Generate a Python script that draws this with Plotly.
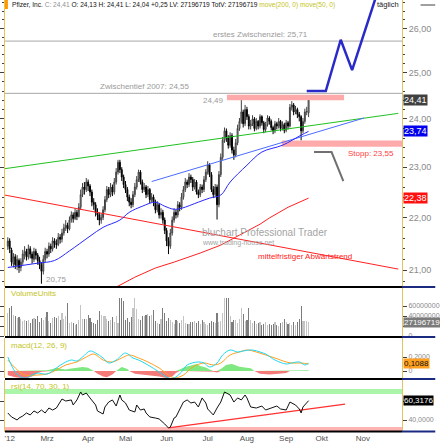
import numpy as np
import plotly.graph_objects as go

# ---------------- data ----------------
month_labels = ["'12", "Mrz", "Apr", "Mai", "Jun", "Jul", "Aug", "Sep", "Okt", "Nov"]
month_pos = [1, 21, 43, 63, 85, 107, 128, 149, 168, 190]   # trading-day index

opens = [21.45, 21.55, 21.38, 21.12, 21.25, 21.08, 21.18, 21.05, 21.15, 21.28,
         21.35, 21.25, 21.40, 21.30, 21.20, 21.35, 21.28, 21.18, 21.10, 20.98,
         21.20, 21.35, 21.30, 21.45, 21.40, 21.55, 21.50, 21.48, 21.62, 21.58,
         21.70, 21.80, 21.85, 21.78, 21.95, 22.05, 21.98, 22.10, 22.02, 22.20,
         22.45, 22.60, 22.55, 22.70, 22.62, 22.50, 22.30, 22.25, 22.10, 22.05,
         21.95, 22.00, 22.15, 22.35, 22.55, 22.45, 22.60, 22.50, 22.70, 22.90,
         23.10, 22.95, 22.80, 22.65, 22.55, 22.40, 22.30, 22.25, 22.45, 22.60,
         22.75, 22.90, 22.70, 22.55, 22.60, 22.45, 22.55, 22.35, 22.40, 22.30,
         22.15, 22.25, 22.05, 22.10, 21.95, 21.75, 21.55, 21.45, 21.70, 21.95,
         22.10, 22.05, 22.25, 22.20, 22.40, 22.55, 22.70, 22.65, 22.80, 22.75,
         22.60, 22.70, 22.50, 22.45, 22.60, 22.55, 22.75, 22.90, 23.05, 22.85,
         22.55, 22.45, 22.60, 22.25, 22.85, 23.20, 23.55, 23.75, 23.60, 23.45,
         23.65, 23.35, 23.25, 23.50, 23.80, 23.95, 24.15, 23.90, 24.20, 24.05,
         23.85, 23.90, 24.00, 23.80, 23.95, 23.85, 24.05, 23.92, 23.78, 23.88,
         24.02, 23.95, 23.82, 23.75, 23.90, 23.85, 23.95, 23.80, 23.88, 23.76,
         23.92, 23.85, 24.25, 24.30, 24.15, 24.20, 24.10, 24.05, 23.75, 23.95,
         24.15, 24.13]
highs = [21.62, 21.60, 21.42, 21.32, 21.30, 21.28, 21.22, 21.22, 21.38, 21.45,
         21.40, 21.48, 21.45, 21.35, 21.42, 21.40, 21.32, 21.25, 21.15, 21.28,
         21.42, 21.40, 21.52, 21.50, 21.62, 21.60, 21.58, 21.70, 21.68, 21.78,
         21.88, 21.95, 21.90, 22.02, 22.12, 22.10, 22.18, 22.15, 22.28, 22.55,
         22.68, 22.70, 22.78, 22.75, 22.66, 22.55, 22.38, 22.30, 22.18, 22.10,
         22.08, 22.22, 22.42, 22.62, 22.60, 22.68, 22.65, 22.78, 22.98, 23.15,
         23.15, 23.00, 22.85, 22.72, 22.60, 22.45, 22.38, 22.52, 22.68, 22.82,
         22.95, 22.94, 22.75, 22.68, 22.64, 22.62, 22.58, 22.48, 22.45, 22.35,
         22.32, 22.28, 22.18, 22.15, 22.00, 21.80, 21.62, 21.78, 22.02, 22.18,
         22.15, 22.32, 22.30, 22.48, 22.62, 22.78, 22.75, 22.88, 22.85, 22.80,
         22.76, 22.74, 22.55, 22.66, 22.65, 22.82, 22.96, 23.12, 23.08, 22.90,
         22.62, 22.66, 22.65, 22.92, 23.28, 23.62, 23.82, 23.80, 23.66, 23.72,
         23.70, 23.42, 23.58, 23.88, 24.02, 24.49, 24.20, 24.30, 24.26, 24.10,
         23.98, 24.08, 24.04, 24.02, 23.98, 24.10, 24.08, 23.96, 23.94, 24.08,
         24.06, 23.99, 23.86, 23.96, 23.94, 24.02, 23.98, 23.95, 23.92, 23.98,
         23.96, 24.32, 24.38, 24.34, 24.28, 24.24, 24.15, 24.08, 24.02, 24.22,
         24.26, 24.41]
lows = [21.38, 21.32, 21.08, 21.05, 21.02, 21.00, 20.95, 20.98, 21.10, 21.20,
        21.18, 21.20, 21.22, 21.12, 21.15, 21.20, 21.10, 21.02, 20.75, 20.92,
        21.15, 21.22, 21.25, 21.32, 21.35, 21.42, 21.40, 21.45, 21.50, 21.52,
        21.65, 21.74, 21.70, 21.75, 21.90, 21.90, 21.95, 21.95, 22.00, 22.15,
        22.40, 22.45, 22.50, 22.52, 22.42, 22.22, 22.15, 22.02, 21.95, 21.85,
        21.88, 21.95, 22.10, 22.30, 22.38, 22.40, 22.42, 22.45, 22.65, 22.85,
        22.88, 22.72, 22.58, 22.48, 22.32, 22.22, 22.18, 22.20, 22.40, 22.55,
        22.70, 22.65, 22.48, 22.50, 22.38, 22.40, 22.28, 22.30, 22.22, 22.08,
        22.10, 21.98, 21.98, 21.88, 21.68, 21.45, 21.30, 21.40, 21.65, 21.90,
        21.98, 22.00, 22.12, 22.15, 22.35, 22.50, 22.58, 22.60, 22.68, 22.52,
        22.55, 22.45, 22.38, 22.40, 22.48, 22.50, 22.70, 22.85, 22.80, 22.50,
        22.38, 22.40, 21.96, 22.20, 22.80, 23.15, 23.50, 23.52, 23.38, 23.40,
        23.28, 23.15, 23.20, 23.45, 23.75, 23.90, 23.82, 23.85, 23.98, 23.78,
        23.78, 23.85, 23.74, 23.76, 23.78, 23.80, 23.86, 23.70, 23.72, 23.84,
        23.88, 23.76, 23.68, 23.70, 23.78, 23.80, 23.74, 23.76, 23.70, 23.72,
        23.78, 23.82, 24.18, 24.08, 24.10, 24.02, 23.95, 23.55, 23.70, 23.90,
        24.08, 24.04]
closes = [21.55, 21.40, 21.15, 21.25, 21.10, 21.20, 21.05, 21.15, 21.30, 21.35,
          21.25, 21.40, 21.30, 21.22, 21.35, 21.28, 21.18, 21.10, 20.98, 21.20,
          21.35, 21.30, 21.45, 21.40, 21.55, 21.50, 21.48, 21.62, 21.58, 21.70,
          21.80, 21.85, 21.78, 21.95, 22.05, 21.98, 22.10, 22.02, 22.20, 22.45,
          22.60, 22.55, 22.70, 22.62, 22.50, 22.30, 22.25, 22.10, 22.05, 21.95,
          22.00, 22.15, 22.35, 22.55, 22.45, 22.60, 22.50, 22.70, 22.90, 23.10,
          22.95, 22.80, 22.65, 22.55, 22.40, 22.30, 22.25, 22.45, 22.60, 22.75,
          22.90, 22.70, 22.55, 22.60, 22.45, 22.55, 22.35, 22.40, 22.30, 22.15,
          22.25, 22.05, 22.10, 21.95, 21.75, 21.55, 21.45, 21.70, 21.95, 22.10,
          22.05, 22.25, 22.20, 22.40, 22.55, 22.70, 22.65, 22.80, 22.75, 22.60,
          22.70, 22.50, 22.45, 22.60, 22.55, 22.75, 22.90, 23.05, 22.85, 22.55,
          22.45, 22.60, 22.25, 22.85, 23.20, 23.55, 23.75, 23.60, 23.45, 23.65,
          23.35, 23.25, 23.50, 23.80, 23.95, 24.15, 23.90, 24.20, 24.05, 23.85,
          23.90, 24.00, 23.80, 23.95, 23.85, 24.05, 23.92, 23.78, 23.88, 24.02,
          23.95, 23.82, 23.75, 23.90, 23.85, 23.95, 23.80, 23.88, 23.76, 23.92,
          23.85, 24.25, 24.30, 24.15, 24.20, 24.10, 24.05, 23.75, 23.95, 24.15,
          24.16, 24.41]
volume_m = [46, 56, 60, 43, 40, 36, 38, 34, 30, 32, 30, 33, 26, 34, 36, 34, 40, 28, 36, 33,
            38, 48, 30, 26, 36, 38, 36, 40, 33, 46, 34, 40, 66, 26, 28, 26, 23, 25, 33, 63,
            34, 34, 34, 43, 36, 28, 26, 25, 33, 50, 43, 41, 40, 34, 30, 33, 38, 28, 40, 26,
            76, 76, 70, 33, 36, 28, 38, 56, 76, 54, 34, 33, 40, 41, 43, 45, 40, 43, 53, 30,
            26, 25, 34, 56, 46, 30, 36, 33, 28, 25, 33, 30, 26, 33, 41, 26, 25, 25, 28, 28,
            30, 26, 30, 25, 33, 28, 25, 23, 26, 30, 28, 26, 46, 28, 30, 46, 76, 76, 76, 40,
            28, 33, 32, 26, 34, 56, 44, 30, 33, 56, 33, 26, 30, 25, 26, 28, 23, 25, 28, 23,
            25, 23, 25, 28, 23, 21, 26, 28, 34, 28, 25, 26, 23, 28, 23, 28, 34, 61, 30, 30,
            30, 27.196719]

ma50_idx = [0, 16, 25, 33, 44, 51, 60, 65, 72, 79, 84, 89, 93, 102, 108, 114, 119, 128, 136, 147, 157, 161]
ma50_val = [21.05, 21.13, 21.18, 21.36, 21.64, 21.81, 21.95, 22.10, 22.22, 22.30, 22.22, 22.16,
            22.18, 22.30, 22.38, 22.44, 22.70, 23.04, 23.31, 23.45, 23.66, 23.74]
ma200_idx = [57, 68, 79, 89, 103, 114, 124, 135, 140, 150, 161]
ma200_val = [20.67, 20.87, 21.04, 21.15, 21.32, 21.47, 21.66, 21.87, 21.99, 22.20, 22.38]

macd_idx = [0, 4, 7, 10, 13, 16, 21, 26, 30, 34, 37, 40, 44, 47, 51, 54, 58, 63, 67, 70, 75, 81,
            86, 89, 93, 96, 102, 105, 108, 112, 115, 119, 123, 126, 131, 135, 138, 143, 149, 152,
            156, 159, 161]
macd_val = [0.20, -0.014, -0.086, -0.10, -0.057, -0.03, -0.043, 0.043, 0.114, 0.157, 0.143, 0.20,
            0.286, 0.257, 0.186, 0.114, 0.157, 0.257, 0.186, 0.157, 0.086, -0.014, -0.10, -0.10,
            -0.014, 0.086, 0.129, 0.114, 0.057, 0.114, 0.229, 0.30, 0.271, 0.286, 0.30, 0.271,
            0.243, 0.157, 0.10, 0.114, 0.129, 0.086, 0.1088]
signal_idx = [0, 4, 9, 16, 21, 26, 31, 37, 42, 46, 51, 56, 61, 65, 70, 75, 81, 86, 89, 94, 99,
              105, 110, 114, 119, 124, 128, 133, 138, 143, 149, 152, 157, 161]
signal_val = [0.157, 0.043, -0.057, -0.057, -0.043, 0.014, 0.086, 0.129, 0.20, 0.243, 0.157,
              0.129, 0.186, 0.229, 0.186, 0.129, 0.043, -0.057, -0.10, -0.057, 0.057, 0.114,
              0.086, 0.114, 0.229, 0.271, 0.30, 0.271, 0.229, 0.186, 0.129, 0.114, 0.114, 0.10]
hist_idx = [0, 4, 7, 10, 13, 16, 18, 21, 24, 26, 29, 31, 34, 38, 40, 43, 46, 48, 51, 53, 56, 58,
            60, 61, 64, 65, 68, 72, 77, 81, 85, 88, 90, 92, 95, 98, 101, 103, 106, 108, 110, 112,
            114, 117, 120, 124, 128, 130, 132, 135, 140, 145, 149, 151, 153, 156, 158, 161]
hist_val = [-0.06, -0.09, -0.10, -0.10, -0.08, -0.03, -0.01, 0.01, 0.03, 0.045, 0.03, 0.02, 0.035,
            0.05, 0.057, 0.045, 0.0, -0.04, -0.08, -0.09, -0.05, 0.0, 0.04, 0.057, 0.03, 0.0, -0.04,
            -0.05, -0.06, -0.08, -0.10, -0.08, -0.03, 0.02, 0.06, 0.08, 0.10, 0.07, 0.05, 0.02, -0.01,
            -0.02, 0.03, 0.09, 0.10, 0.06, 0.05, 0.04, 0.0, -0.04, -0.05, -0.04, -0.03, 0.0, 0.01,
            -0.01, -0.01, 0.01]

rsi_idx = [0, 2, 5, 6, 8, 10, 12, 14, 16, 18, 20, 22, 24, 26, 29, 31, 34, 35, 37, 39, 40, 42, 44,
           47, 48, 51, 52, 54, 56, 58, 60, 61, 63, 65, 68, 69, 71, 73, 74, 76, 79, 81, 84, 86, 87,
           89, 90, 92, 94, 96, 98, 100, 102, 104, 106, 107, 110, 112, 114, 116, 119, 121, 123, 125,
           127, 128, 130, 133, 136, 138, 141, 144, 146, 149, 151, 154, 156, 157, 158, 161]
rsi_val = [47.4, 43.2, 40.0, 42.1, 44.2, 47.4, 45.3, 49.5, 47.4, 50.5, 47.4, 52.6, 50.5, 52.6, 62.1,
           60.0, 61.1, 55.8, 61.1, 69.5, 66.3, 68.4, 63.2, 55.8, 49.5, 46.3, 53.7, 58.9, 61.1, 54.7,
           66.3, 61.1, 57.9, 50.5, 48.4, 55.8, 50.5, 51.6, 47.4, 43.2, 42.1, 41.1, 35.8, 31.6, 32.6,
           42.1, 43.2, 50.5, 58.9, 61.1, 57.9, 58.9, 53.7, 63.2, 57.9, 51.6, 45.3, 52.6, 58.9, 69.5,
           66.3, 58.9, 63.2, 61.1, 66.3, 63.2, 53.7, 52.6, 54.7, 50.5, 52.6, 54.7, 51.6, 50.5, 58.9,
           55.8, 51.6, 47.4, 53.7, 60.3176]

# drawn lines (trading-day index, price)
green_trend = ([-1.5, 209], [22.97, 24.12])
blue_trend = ([77, 190.6], [22.71, 24.02])
red_trend = ([-1.5, 209], [22.44, 21.02])
bull_path = ([160, 170.2, 178.2, 184.3, 197.4], [24.60, 24.60, 25.74, 25.06, 26.78])
bear_path = ([163.9, 173.3, 179.6], [23.31, 23.31, 22.72])
rsi_trend = ([86, 180.5], [31.6, 56.8])
resist_zone = (117.3, 180, 24.40, 24.52)
stop_zone = (146.6, 212, 23.42, 23.55)
target1 = 25.71
low2007 = 24.55
price_ticks = [21, 22, 23, 24, 25, 26]

# ---------------- figure ----------------
W, H = 440, 443
ML, MR, MT, MB = 0, 34, 0, 11
PW, PH = W - ML - MR, H - MT - MB
XR = [-1.5, 211]


def px(x):
    return (x - ML) / PW


def py(y):
    return 1 - (y - MT) / PH


def fmt(v, d=2):
    return f"{v:.{d}f}".replace('.', ',')


n = len(closes)
idx = list(range(n))
FONT = "Liberation Sans, Arial, sans-serif"
OLIVE = "#c4c41c"

fig = go.Figure()

# levels and zones (main)
for lv in (target1, low2007):
    fig.add_trace(go.Scatter(x=XR, y=[lv, lv], mode="lines", line=dict(color="#a8a8a8", width=1),
                             xaxis="x", yaxis="y"))
for (x0, x1, lo, hi) in (resist_zone, stop_zone):
    fig.add_trace(go.Scatter(x=[x0, x1, x1, x0, x0], y=[lo, lo, hi, hi, lo], mode="lines",
                             fill="toself", fillcolor="#ffaaaa", line=dict(width=0),
                             xaxis="x", yaxis="y"))

fig.add_trace(go.Scatter(x=red_trend[0], y=red_trend[1], mode="lines",
                         line=dict(color="#ff2020", width=1), xaxis="x", yaxis="y"))
fig.add_trace(go.Scatter(x=green_trend[0], y=green_trend[1], mode="lines",
                         line=dict(color="#20c020", width=1), xaxis="x", yaxis="y"))
fig.add_trace(go.Scatter(x=blue_trend[0], y=blue_trend[1], mode="lines",
                         line=dict(color="#4a6cff", width=1), xaxis="x", yaxis="y"))
fig.add_trace(go.Scatter(x=ma200_idx, y=ma200_val, mode="lines",
                         line=dict(color="#ff2020", width=1), xaxis="x", yaxis="y"))
fig.add_trace(go.Scatter(x=ma50_idx, y=ma50_val, mode="lines", line_shape="spline",
                         line=dict(color="#2828ff", width=1), xaxis="x", yaxis="y"))

fig.add_trace(go.Candlestick(
    x=idx, open=opens, high=highs, low=lows, close=closes, xaxis="x", yaxis="y",
    increasing=dict(line=dict(color="#404040", width=1), fillcolor="#c4c4c4"),
    decreasing=dict(line=dict(color="#000000", width=1), fillcolor="#000000"),
    whiskerwidth=0))

fig.add_trace(go.Scatter(x=bull_path[0], y=bull_path[1], mode="lines",
                         line=dict(color="#2a2ac8", width=2.5), xaxis="x", yaxis="y"))
fig.add_trace(go.Scatter(x=bear_path[0], y=bear_path[1], mode="lines",
                         line=dict(color="#707070", width=2), xaxis="x", yaxis="y"))

# volume
vol = np.array(volume_m) * 1e6
vcol = ["#c4c4c4" if c >= o else "#7c7c7c" for o, c in zip(opens, closes)]
fig.add_trace(go.Bar(x=idx, y=vol, marker=dict(color=vcol, line=dict(width=0)), width=0.6,
                     xaxis="x2", yaxis="y2"))

# macd
hv = np.array(hist_val)
fig.add_trace(go.Scatter(x=hist_idx, y=np.clip(hv, 0, None), mode="lines", fill="tozeroy",
                         fillcolor="#80e880", line=dict(width=0), xaxis="x3", yaxis="y3"))
fig.add_trace(go.Scatter(x=hist_idx, y=np.clip(hv, None, 0), mode="lines", fill="tozeroy",
                         fillcolor="#f47a7a", line=dict(width=0), xaxis="x3", yaxis="y3"))
fig.add_trace(go.Scatter(x=signal_idx, y=signal_val, mode="lines", line_shape="spline",
                         line=dict(color="#ffa020", width=1), xaxis="x3", yaxis="y3"))
fig.add_trace(go.Scatter(x=macd_idx, y=macd_val, mode="lines", line_shape="spline",
                         line=dict(color="#20d8f0", width=1), xaxis="x3", yaxis="y3"))

# rsi
for (lo, hi, col) in ((67.4, 72.6, "#aaf5aa"), (27.4, 32.6, "#ffb4b4")):
    fig.add_trace(go.Scatter(x=[XR[0], XR[1], XR[1], XR[0], XR[0]], y=[lo, lo, hi, hi, lo],
                             mode="lines", fill="toself", fillcolor=col, line=dict(width=0),
                             xaxis="x4", yaxis="y4"))
fig.add_trace(go.Scatter(x=rsi_trend[0], y=rsi_trend[1], mode="lines",
                         line=dict(color="#ff3030", width=1.3), xaxis="x4", yaxis="y4"))
fig.add_trace(go.Scatter(x=rsi_idx, y=rsi_val, mode="lines",
                         line=dict(color="#111111", width=1), xaxis="x4", yaxis="y4"))

# ---------------- axes ----------------
AXC = "#e6c45a"
TICKF = dict(family=FONT, size=9, color="#8a8a8a")
base_x = dict(range=XR, showgrid=False, zeroline=False, showticklabels=False, ticks="",
              showline=False, fixedrange=True)
layout_axes = dict(
    xaxis=dict(base_x, domain=[0, 1], anchor="y", rangeslider=dict(visible=False)),
    xaxis2=dict(base_x, domain=[0, 1], anchor="y2", matches="x"),
    xaxis3=dict(base_x, domain=[0, 1], anchor="y3", matches="x"),
    xaxis4=dict(base_x, domain=[0, 1], anchor="y4", matches="x", showticklabels=True,
                tickmode="array", tickvals=month_pos, ticktext=month_labels,
                tickfont=dict(family=FONT, size=8, color="#505050")),
)
yb = dict(side="right", showgrid=False, zeroline=False, showline=True, linecolor=AXC, linewidth=1,
          ticks="outside", ticklen=4, tickcolor="#404040", mirror="ticks", tickfont=TICKF,
          fixedrange=True)
layout_axes["yaxis"] = dict(yb, domain=[py(287), 1], anchor="x", type="log",
                            range=[np.log10(20.69), np.log10(26.66)],
                            tickmode="array", tickvals=price_ticks,
                            ticktext=[fmt(v) for v in price_ticks],
                            minor=dict(tickmode="array",
                                       tickvals=[round(v, 1) for v in np.arange(20.8, 26.61, 0.2)],
                                       ticks="outside", ticklen=2, tickcolor="#404040"))
layout_axes["yaxis2"] = dict(yb, domain=[py(336), py(288)], anchor="x2", range=[0, 96e6],
                             tickmode="array", tickvals=[0, 20e6, 40e6, 60e6],
                             ticktext=["0", "", "40000000", "60000000"],
                             tickfont=dict(family=FONT, size=7, color="#8a8a8a"))
layout_axes["yaxis3"] = dict(yb, domain=[py(378), py(338)], anchor="x3", range=[-0.1, 0.4714],
                             tickmode="array", tickvals=[0, 0.2], ticktext=["0", "0,2000"],
                             tickfont=dict(family=FONT, size=7, color="#8a8a8a"))
layout_axes["yaxis4"] = dict(yb, domain=[0, py(380)], anchor="x4", range=[27.37, 82.1],
                             tickmode="array", tickvals=[40, 60], ticktext=["40,0000", ""],
                             tickfont=dict(family=FONT, size=7, color="#8a8a8a"))

# ---------------- annotations ----------------
ann = []


def txt(x, y, s, color="#999999", size=8, xanchor="left", xref="paper", yref="paper", **kw):
    ann.append(dict(x=x, y=y, xref=xref, yref=yref, text=s, showarrow=False, xanchor=xanchor,
                    yanchor="middle", font=dict(family=FONT, size=size, color=color), **kw))


title = ("Pfizer, Inc. <span style='color:#909090'>C: " + fmt(closes[-1]) + "</span> O: "
         + fmt(opens[-1]) + " H: " + fmt(highs[-1]) + " L: " + fmt(lows[-1]) + " +"
         + fmt(closes[-1] - closes[-2]) + " LV: " + f"{int(round(volume_m[-1] * 1e6))}"
         + " TotV: " + f"{int(round(volume_m[-1] * 1e6))}"
         + f" <span style='color:{OLIVE}'>move(200, 0) move(50, 0)</span>")
txt(px(5), py(5), title, color="#111111", size=6.6)
txt(px(405), py(5), "täglich", color="#222222", size=7.5, xanchor="right")
txt(px(312), py(34), "erstes Zwischenziel: " + fmt(target1), color="#9a9a9a", size=8, xanchor="right")
txt(px(190), py(86), "Zwischentief 2007: " + fmt(low2007), color="#9a9a9a", size=8, xanchor="right")
txt(px(226), py(100), fmt(max(highs)), color="#9a9a9a", size=8, xanchor="right")
txt(px(400), py(154), "Stopp: " + fmt(stop_zone[3]), color="#ff4040", size=8, xanchor="right")
txt(px(40), py(279), fmt(min(lows)), color="#9a9a9a", size=8)
txt(px(199), py(232), "bluchart Professional Trader", color="#a4a4a4", size=10)
txt(px(199), py(243), "www.trading-house.net", color="#a4a4a4", size=7)
txt(px(357), py(256), "mittelfristiger Abwärtstrend", color="#ff2020", size=8, xanchor="right")
txt(px(4), py(293), "VolumeUnits", color=OLIVE, size=8)
txt(px(4), py(345), "macd(12, 26, 9)", color=OLIVE, size=8)
txt(px(4), py(386), "rsi(14, 70, 30, 1)", color=OLIVE, size=8)

# value boxes on right axis
bx = px(407)
txt(bx, np.log10(closes[-1]), fmt(closes[-1]), color="white", size=9, yref="y",
    bgcolor="#404040", borderpad=0)
txt(bx, np.log10(ma50_val[-1]), fmt(ma50_val[-1]), color="white", size=9, yref="y",
    bgcolor="#0000ee", borderpad=0)
txt(bx, np.log10(ma200_val[-1]), fmt(ma200_val[-1]), color="white", size=9, yref="y",
    bgcolor="#ff1010", borderpad=0)
txt(bx, volume_m[-1] * 1e6, f"{int(round(volume_m[-1] * 1e6))}", color="white", size=8,
    yref="y2", bgcolor="#7a7a7a", borderpad=0)
txt(bx, macd_val[-1], fmt(macd_val[-1], 4), color="#111111", size=8, yref="y3",
    bgcolor="#ffa020", borderpad=0)
txt(bx, rsi_val[-1], fmt(rsi_val[-1], 4), color="white", size=8, yref="y4",
    bgcolor="#000000", borderpad=0)

# ---------------- shapes ----------------
shapes = [dict(type="rect", xref="paper", yref="paper", x0=px(0), x1=px(3), y0=py(9), y1=py(0),
               fillcolor="#ff9900", line=dict(width=0))]
for yl in (287, 337, 379, 431.5):
    shapes.append(dict(type="line", xref="paper", yref="paper", x0=0, x1=1, y0=py(yl), y1=py(yl),
                       line=dict(color="#000000", width=2)))
    shapes.append(dict(type="line", xref="paper", yref="paper", x0=1, x1=px(440), y0=py(yl),
                       y1=py(yl), line=dict(color="#1a2a80", width=2)))
shapes.append(dict(type="line", xref="paper", yref="paper", x0=px(425), x1=px(440), y0=py(5),
                   y1=py(5), line=dict(color="#404040", width=1)))

fig.update_layout(
    width=W, height=H, margin=dict(l=ML, r=MR, t=MT, b=MB, pad=0),
    paper_bgcolor="white", plot_bgcolor="white", showlegend=False, hovermode=False,
    separators=",.", annotations=ann, shapes=shapes, bargap=0,
    font=dict(family=FONT, size=8, color="#333333"),
    **layout_axes)

fig.write_html("out.html", config=dict(displayModeBar=False, staticPlot=True))
